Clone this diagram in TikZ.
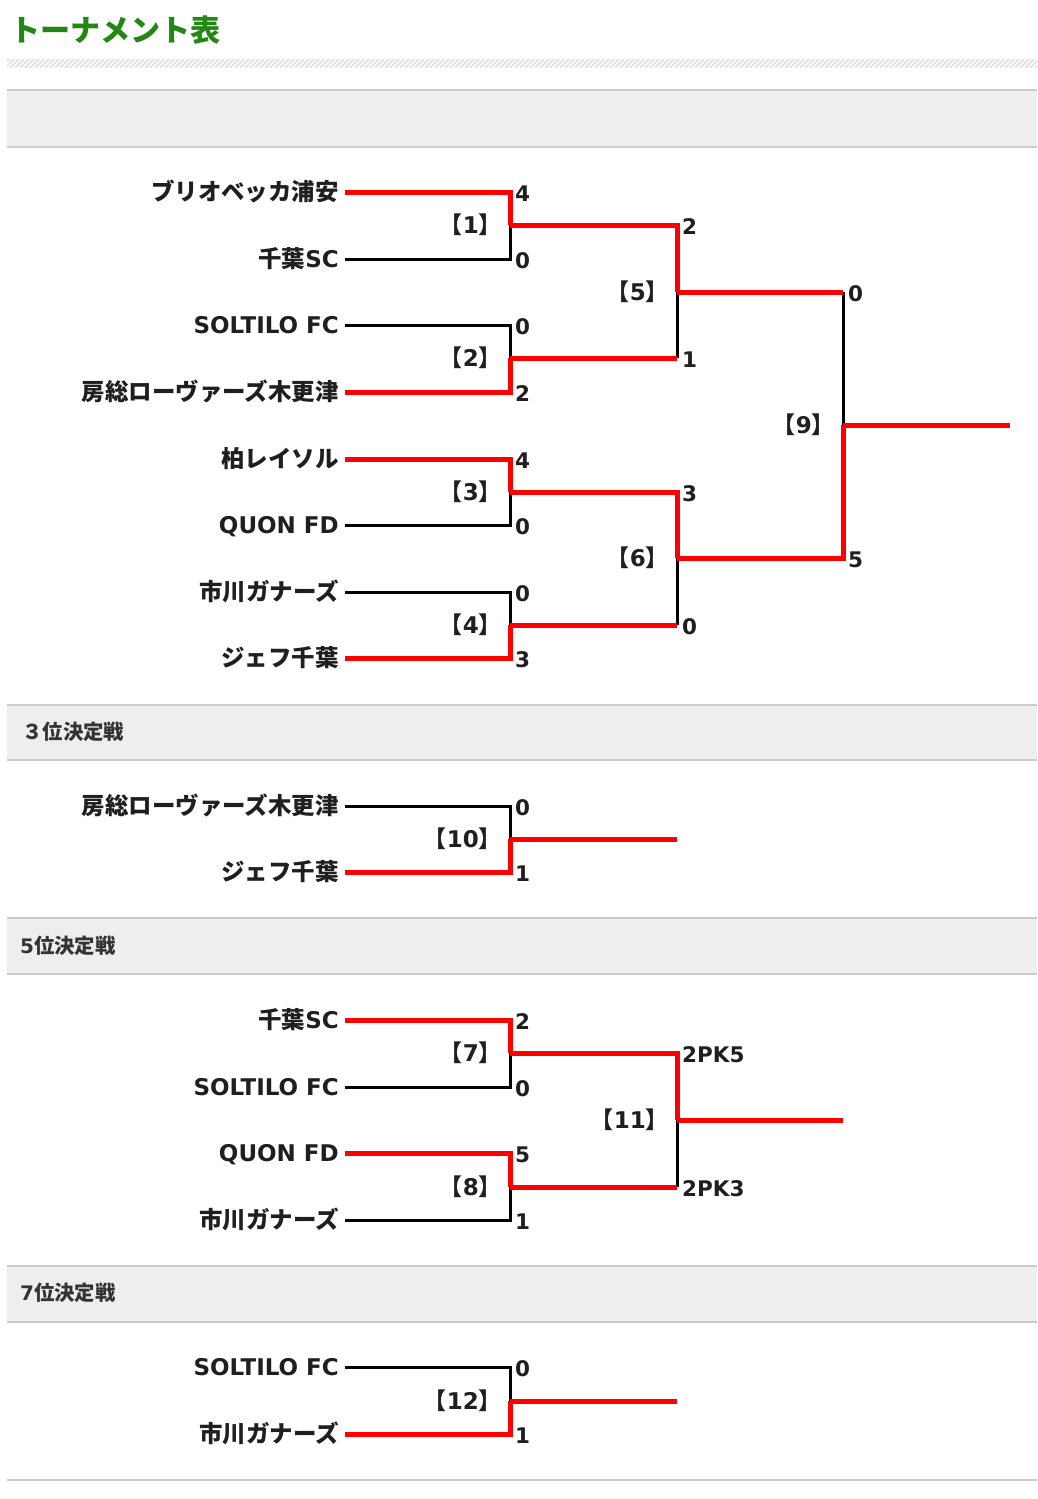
\documentclass[tikz,border=0pt]{standalone}
\usepackage{fontspec}
\setmainfont{DejaVu Sans}
\newfontfamily\jp{Noto Sans CJK JP}[Scale=1.02]
\newfontfamily\jpp{Noto Sans CJK JP}[RawFeature=+palt]
\usetikzlibrary{positioning}
\definecolor{winred}{RGB}{255,0,0}
\definecolor{boxgray}{RGB}{238,238,238}
\definecolor{rulegray}{RGB}{204,204,204}
\definecolor{hatchgray}{RGB}{226,226,226}
\definecolor{titlegreen}{RGB}{34,136,17}
\definecolor{headtext}{RGB}{51,51,51}
\newcommand\teamfont{\fontsize{23}{27}\selectfont\bfseries}
\newcommand\scorefont{\fontsize{21.5}{25}\selectfont\bfseries}
\newcommand\matchno[1]{{\jpp【}\kern0.5pt#1\kern0.5pt{\jpp】}}
\tikzset{
  team/.style={anchor=east, inner xsep=6pt, inner ysep=0pt, text height=17pt, text depth=0pt, font=\teamfont, text=black!88},
  score/.style={inner sep=0pt, text height=15.5pt, text depth=0pt, yshift=-1.5pt, font=\scorefont, text=black!88},
  matchlbl/.style={anchor=east, inner sep=0pt, text height=17pt, text depth=0pt, font=\teamfont, text=black!88},
  win/.style={draw=winred, line width=5pt},
  lose/.style={draw=black, line width=3pt},
  rule/.style={draw=rulegray, line width=1.5pt},
  hatch/.style={draw=hatchgray, line width=2pt},
  sechead/.style={anchor=base west, inner sep=0pt, font=\fontsize{20}{23}\selectfont\bfseries, text=headtext},
}
\begin{document}
\begin{tikzpicture}[x=1pt,y=-1pt]
  \useasboundingbox (0,0) rectangle (1037,1499);
  % Title and hatched band
  \node[anchor=base west, inner sep=0pt, font=\fontsize{29.5}{33}\selectfont\bfseries, text=titlegreen] (title) at (10,41) {{\jp トーナメント表}};
  \begin{scope}
    \clip (7,59) rectangle (1037,67);
    \foreach \x in {0,5,...,1040} {\draw[hatch] (\x,68) -- ++(10,-10);}
  \end{scope}
  % Section bands
  \foreach \top/\bot in {90/147,705/760,918/974,1266/1322} {
    \fill[boxgray] (7,\top) rectangle (1037,\bot);
    \draw[rule] (7,\top) -- (1037,\top);
    \draw[rule] (7,\bot) -- (1037,\bot);
  }
  \draw[rule] (7,1480) -- (1037,1480);
  \node[sechead] (h3) at (22,739) {{\jp ３位決定戦}};
  \node[sechead] (h5) at (20,953) {5{\jp 位決定戦}};
  \node[sechead] (h7) at (20,1300) {7{\jp 位決定戦}};

  % Main bracket: teams
  \node[team] (t1) at (345,192) {{\jp ブリオベッカ浦安}};
  \node[team] (t2) at (345,259) {{\jp 千葉}SC};
  \node[team] (t3) at (345,325) {SOLTILO FC};
  \node[team] (t4) at (345,392) {{\jp 房総ローヴァーズ木更津}};
  \node[team] (t5) at (345,459) {{\jp 柏レイソル}};
  \node[team] (t6) at (345,525) {QUON FD};
  \node[team] (t7) at (345,592) {{\jp 市川ガナーズ}};
  \node[team] (t8) at (345,658) {{\jp ジェフ千葉}};
  % Main bracket: line ends and joints
  \foreach \n/\y in {1/192,2/259,3/325,4/392,5/459,6/525,7/592,8/658} {\coordinate (a\n) at (510,\y);}
  \foreach \n/\y in {1/225,2/358,3/492,4/625} {
    \coordinate (j\n) at (510,\y);
    \coordinate (b\n) at (677,\y);
  }
  \coordinate (k1) at (677,292);
  \coordinate (k2) at (677,558);
  \coordinate (c1) at (843,292);
  \coordinate (c2) at (843,558);
  \coordinate (f) at (843,425);
  \coordinate (champ) at (1010,425);
  % Losing lines
  \draw[lose] (t2.east) -- (a2) -- (j1);
  \draw[lose] (t3.east) -- (a3) -- (j2);
  \draw[lose] (t6.east) -- (a6) -- (j3);
  \draw[lose] (t7.east) -- (a7) -- (j4);
  \draw[lose] (b2) -- (k1);
  \draw[lose] (b4) -- (k2);
  \draw[lose] (c1) -- (f);
  % Winning lines
  \draw[win] (t1.east) -- (a1) -- (j1);
  \draw[win] (t4.east) -- (a4) -- (j2);
  \draw[win] (t5.east) -- (a5) -- (j3);
  \draw[win] (t8.east) -- (a8) -- (j4);
  \draw[win] (j1) -- (b1) -- (k1);
  \draw[win] (j2) -- (b2);
  \draw[win] (j3) -- (b3) -- (k2);
  \draw[win] (j4) -- (b4);
  \draw[win] (k1) -- (c1);
  \draw[win] (k2) -- (c2) -- (f);
  \draw[win] (f) -- (champ);
  % Scores
  \node[score, right=5pt of a1] (s1) {4};
  \node[score, right=5pt of a2] (s2) {0};
  \node[score, right=5pt of a3] (s3) {0};
  \node[score, right=5pt of a4] (s4) {2};
  \node[score, right=5pt of a5] (s5) {4};
  \node[score, right=5pt of a6] (s6) {0};
  \node[score, right=5pt of a7] (s7) {0};
  \node[score, right=5pt of a8] (s8) {3};
  \node[score, right=5pt of b1] (r1) {2};
  \node[score, right=5pt of b2] (r2) {1};
  \node[score, right=5pt of b3] (r3) {3};
  \node[score, right=5pt of b4] (r4) {0};
  \node[score, right=5pt of c1] (q1) {0};
  \node[score, right=5pt of c2] (q2) {5};
  % Match numbers
  \node[matchlbl] (m1) at (491,225) {\matchno{1}};
  \node[matchlbl] (m2) at (491,358) {\matchno{2}};
  \node[matchlbl] (m3) at (491,492) {\matchno{3}};
  \node[matchlbl] (m4) at (491,625) {\matchno{4}};
  \node[matchlbl] (m5) at (658,292) {\matchno{5}};
  \node[matchlbl] (m6) at (658,558) {\matchno{6}};
  \node[matchlbl] (m9) at (824,425) {\matchno{9}};

  % 3rd place
  \node[team] (u1) at (345,806) {{\jp 房総ローヴァーズ木更津}};
  \node[team] (u2) at (345,872) {{\jp ジェフ千葉}};
  \coordinate (ua1) at (510,806);
  \coordinate (ua2) at (510,872);
  \coordinate (uj) at (510,839);
  \coordinate (uout) at (677,839);
  \draw[lose] (u1.east) -- (ua1) -- (uj);
  \draw[win] (u2.east) -- (ua2) -- (uj);
  \draw[win] (uj) -- (uout);
  \node[score, right=5pt of ua1] {0};
  \node[score, right=5pt of ua2] {1};
  \node[matchlbl] (m10) at (491,839) {\matchno{10}};

  % 5th place
  \node[team] (v1) at (345,1020) {{\jp 千葉}SC};
  \node[team] (v2) at (345,1087) {SOLTILO FC};
  \node[team] (v3) at (345,1153) {QUON FD};
  \node[team] (v4) at (345,1220) {{\jp 市川ガナーズ}};
  \foreach \n/\y in {1/1020,2/1087,3/1153,4/1220} {\coordinate (va\n) at (510,\y);}
  \coordinate (vj1) at (510,1053);
  \coordinate (vj2) at (510,1187);
  \coordinate (vb1) at (677,1053);
  \coordinate (vb2) at (677,1187);
  \coordinate (vk) at (677,1120);
  \coordinate (vout) at (843,1120);
  \draw[lose] (v2.east) -- (va2) -- (vj1);
  \draw[lose] (v4.east) -- (va4) -- (vj2);
  \draw[lose] (vb2) -- (vk);
  \draw[win] (v1.east) -- (va1) -- (vj1);
  \draw[win] (v3.east) -- (va3) -- (vj2);
  \draw[win] (vj1) -- (vb1) -- (vk);
  \draw[win] (vj2) -- (vb2);
  \draw[win] (vk) -- (vout);
  \node[score, right=5pt of va1] {2};
  \node[score, right=5pt of va2] {0};
  \node[score, right=5pt of va3] {5};
  \node[score, right=5pt of va4] {1};
  \node[score, right=5pt of vb1] {2PK5};
  \node[score, right=5pt of vb2] {2PK3};
  \node[matchlbl] (m7) at (491,1053) {\matchno{7}};
  \node[matchlbl] (m8) at (491,1187) {\matchno{8}};
  \node[matchlbl] (m11) at (658,1120) {\matchno{11}};

  % 7th place
  \node[team] (w1) at (345,1367) {SOLTILO FC};
  \node[team] (w2) at (345,1434) {{\jp 市川ガナーズ}};
  \coordinate (wa1) at (510,1367);
  \coordinate (wa2) at (510,1434);
  \coordinate (wj) at (510,1401);
  \coordinate (wout) at (677,1401);
  \draw[lose] (w1.east) -- (wa1) -- (wj);
  \draw[win] (w2.east) -- (wa2) -- (wj);
  \draw[win] (wj) -- (wout);
  \node[score, right=5pt of wa1] {0};
  \node[score, right=5pt of wa2] {1};
  \node[matchlbl] (m12) at (491,1401) {\matchno{12}};
\end{tikzpicture}
\end{document}
